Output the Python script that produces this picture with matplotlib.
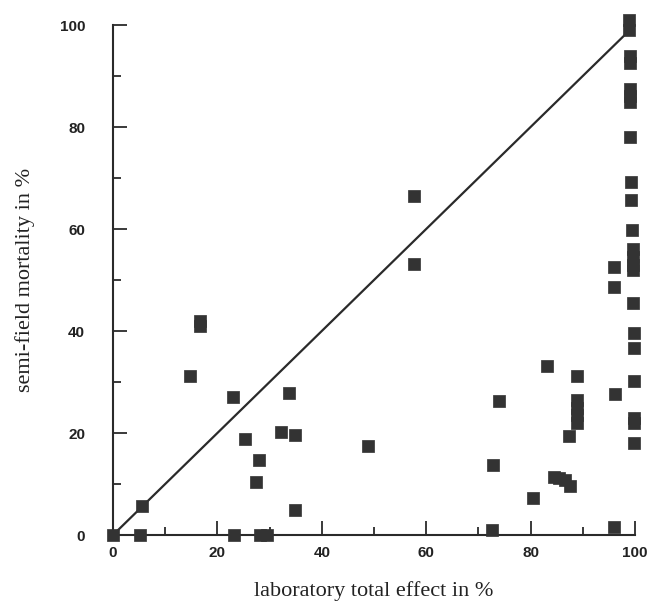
import matplotlib.pyplot as plt
import numpy as np

# laboratory total effect (%) vs semi-field mortality (%)
lab_effect = [0, 5.1, 5.5, 16.6, 16.6, 14.8, 22.9, 33.7, 32.1, 34.9, 25.3, 27.9, 27.4, 34.9,
              23.2, 28.2, 29.5, 48.8, 57.6, 57.6, 72.8, 74.0, 72.7, 80.5, 83.2,
              84.5, 85.5, 86.5, 87.5, 87.4, 88.8, 88.8, 88.8, 88.8, 88.8,
              95.9, 96.2, 96.0, 96.0,
              98.9, 98.9, 99.0, 99.0, 99.0, 99.0, 99.0, 99.1, 99.3, 99.3, 99.4,
              99.6, 99.6, 99.6, 99.6, 99.6, 99.8, 99.8, 99.8, 99.8, 99.8, 99.9]
field_mortality = [0, 0, 5.6, 42, 41, 31.2, 27.1, 27.8, 20.1, 19.6, 18.8, 14.7, 10.3, 4.9,
                   0, 0, 0, 17.4, 66.5, 53.1, 13.7, 26.2, 1.0, 7.3, 33.1,
                   11.3, 11.2, 10.8, 9.6, 19.4, 31.2, 26.5, 25, 23.5, 22,
                   1.5, 27.6, 52.6, 48.7,
                   101, 99, 94, 92.5, 87.5, 86, 85, 78.1, 69.3, 65.7, 59.8,
                   56, 54.5, 53, 52, 45.4, 39.6, 36.6, 30.1, 23, 21.9, 18.0]

ticks_major = [0, 20, 40, 60, 80, 100]
ticks_minor = [10, 30, 50, 70, 90]

fig = plt.figure(figsize=(6.49, 6.01), dpi=100)
ax = fig.add_axes([0.1741, 0.1098, 0.8043, 0.8486])

ax.plot([0, 100], [0, 100], color='#2a2a2a', linewidth=1.6, zorder=2)
ax.scatter(lab_effect, field_mortality, marker='s', s=85, color='#333333',
           edgecolors='#333333', linewidths=0.5, clip_on=False, zorder=3)

ax.set_xlim(0, 100)
ax.set_ylim(0, 100)
ax.spines['top'].set_visible(False)
ax.spines['right'].set_visible(False)
ax.spines['left'].set_linewidth(1.5)
ax.spines['bottom'].set_linewidth(1.5)
ax.spines['left'].set_color('#2a2a2a')
ax.spines['bottom'].set_color('#2a2a2a')

ax.set_xticks(ticks_major)
ax.set_yticks(ticks_major)
ax.set_xticks(ticks_minor, minor=True)
ax.set_yticks(ticks_minor, minor=True)
ax.tick_params(which='major', direction='in', length=10, width=1.3, color='#2a2a2a')
ax.tick_params(which='minor', direction='in', length=6, width=1.3, color='#2a2a2a')
ax.tick_params(axis='y', which='major', pad=20)
ax.tick_params(axis='x', which='major', pad=8)
for lbl in ax.get_xticklabels() + ax.get_yticklabels():
    lbl.set_fontfamily('Liberation Sans')
    lbl.set_fontweight('bold')
    lbl.set_fontsize(11)
    lbl.set_color('#222222')

ax.set_xlabel('laboratory total effect in %', family='Liberation Serif', size=16,
              color='#222222', labelpad=15)
ax.set_ylabel('semi-field mortality in %', family='Liberation Serif', size=16,
              color='#222222', labelpad=18)

fig.savefig('out.png', dpi=100)
